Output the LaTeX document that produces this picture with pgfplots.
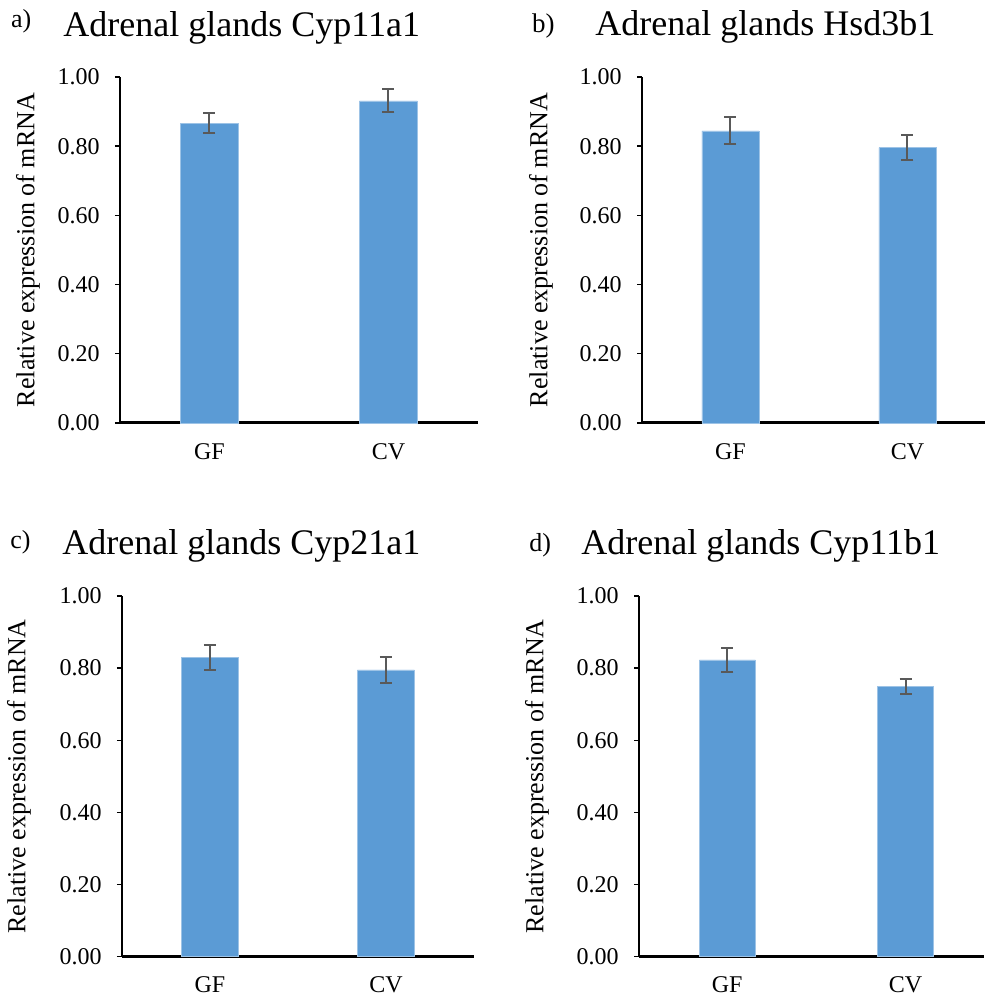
\documentclass[border=0pt]{standalone}
\usepackage{fontspec}
\setmainfont{Liberation Serif}
\usepackage{pgfplots}
\pgfplotsset{compat=1.18}
\definecolor{barblue}{HTML}{5B9BD5}
\definecolor{baredge}{HTML}{9DC3E6}
\definecolor{errgray}{HTML}{595959}
\pgfplotsset{
  panel/.style={
    scale only axis, anchor=south west,
    ybar, ymin=0, ymax=1,
    xmin=-0.5, xmax=1.5,
    ytick={0,0.2,0.4,0.6,0.8,1.0},
    yticklabel style={/pgf/number format/fixed, /pgf/number format/fixed zerofill, /pgf/number format/precision=2},
    /pgf/number format/assume math mode=true,
    xtick={0,1}, xticklabels={GF,CV},
    axis lines*=left,
    x axis line style={line width=1.5pt, black},
    y axis line style={line width=0.7pt, black},
    tick align=outside,
    major tick length=2.5pt,
    ytick style={line width=0.7pt, black},
    xtick style={draw=none},
    ticklabel style={font=\fontsize{12}{14}\selectfont, inner sep=0pt},
    yticklabel style={xshift=-7.5pt},
    xticklabel style={yshift=-7.5pt},
    ylabel={Relative expression of mRNA},
    ylabel style={font=\fontsize{13}{15}\selectfont, at={(axis description cs:0,0.5)}, anchor=center, inner sep=0pt},
    clip=false,
  },
  bars/.style={
    fill=barblue, draw=baredge, line width=0.3pt,
    error bars/.cd, y dir=both, y explicit,
    error bar style={errgray, line width=1pt},
    error mark options={errgray, line width=1pt, mark size=3pt, rotate=90},
  },
}
\begin{document}
\begin{tikzpicture}
\useasboundingbox (0,0) rectangle (492.5pt,499pt);
% titles
\node[anchor=base west, inner sep=0pt, font=\fontsize{13}{15}\selectfont] at (5.3pt,485pt) {a)};
\node[anchor=base west, inner sep=0pt, font=\fontsize{18}{21}\selectfont] at (31.5pt,480.5pt) {Adrenal glands Cyp11a1};
\node[anchor=base west, inner sep=0pt, font=\fontsize{13.5}{15}\selectfont] at (265.8pt,482.5pt) {b)};
\node[anchor=base west, inner sep=0pt, font=\fontsize{18}{21}\selectfont] at (297.5pt,481.25pt) {Adrenal glands Hsd3b1};
\node[anchor=base west, inner sep=0pt, font=\fontsize{13}{15}\selectfont] at (5pt,224.5pt) {c)};
\node[anchor=base west, inner sep=0pt, font=\fontsize{18}{21}\selectfont] at (31pt,221.5pt) {Adrenal glands Cyp21a1};
\node[anchor=base west, inner sep=0pt, font=\fontsize{13}{15}\selectfont] at (264.5pt,223pt) {d)};
\node[anchor=base west, inner sep=0pt, font=\fontsize{18}{21}\selectfont] at (290.5pt,221.5pt) {Adrenal glands Cyp11b1};

% a
\begin{axis}[panel, at={(60pt,287.5pt)}, width=179pt, height=173pt, bar width=29pt,
  ylabel style={yshift=46pt}]
\addplot[bars] coordinates {(0,0.866) +- (0,0.029) (1,0.931) +- (0,0.033)};
\end{axis}
% b
\begin{axis}[panel, at={(321pt,287.5pt)}, width=171.5pt, height=173pt, bar width=28.5pt,
  xmax=1.438, ylabel style={yshift=50.5pt}]
\addplot[bars] coordinates {(0,0.844) +- (0,0.039) (1,0.796) +- (0,0.036)};
\end{axis}
% c
\begin{axis}[panel, at={(61pt,20.65pt)}, width=176pt, height=180.35pt, bar width=28.5pt,
  ylabel style={yshift=51.5pt}]
\addplot[bars] coordinates {(0,0.829) +- (0,0.035) (1,0.795) +- (0,0.035)};
\end{axis}
% d
\begin{axis}[panel, at={(319.5pt,20.65pt)}, width=172.5pt, height=180.35pt, bar width=28pt,
  xmin=-0.495, xmax=1.44, ylabel style={yshift=51pt}]
\addplot[bars] coordinates {(0,0.823) +- (0,0.033) (1,0.749) +- (0,0.022)};
\end{axis}
\end{tikzpicture}
\end{document}
